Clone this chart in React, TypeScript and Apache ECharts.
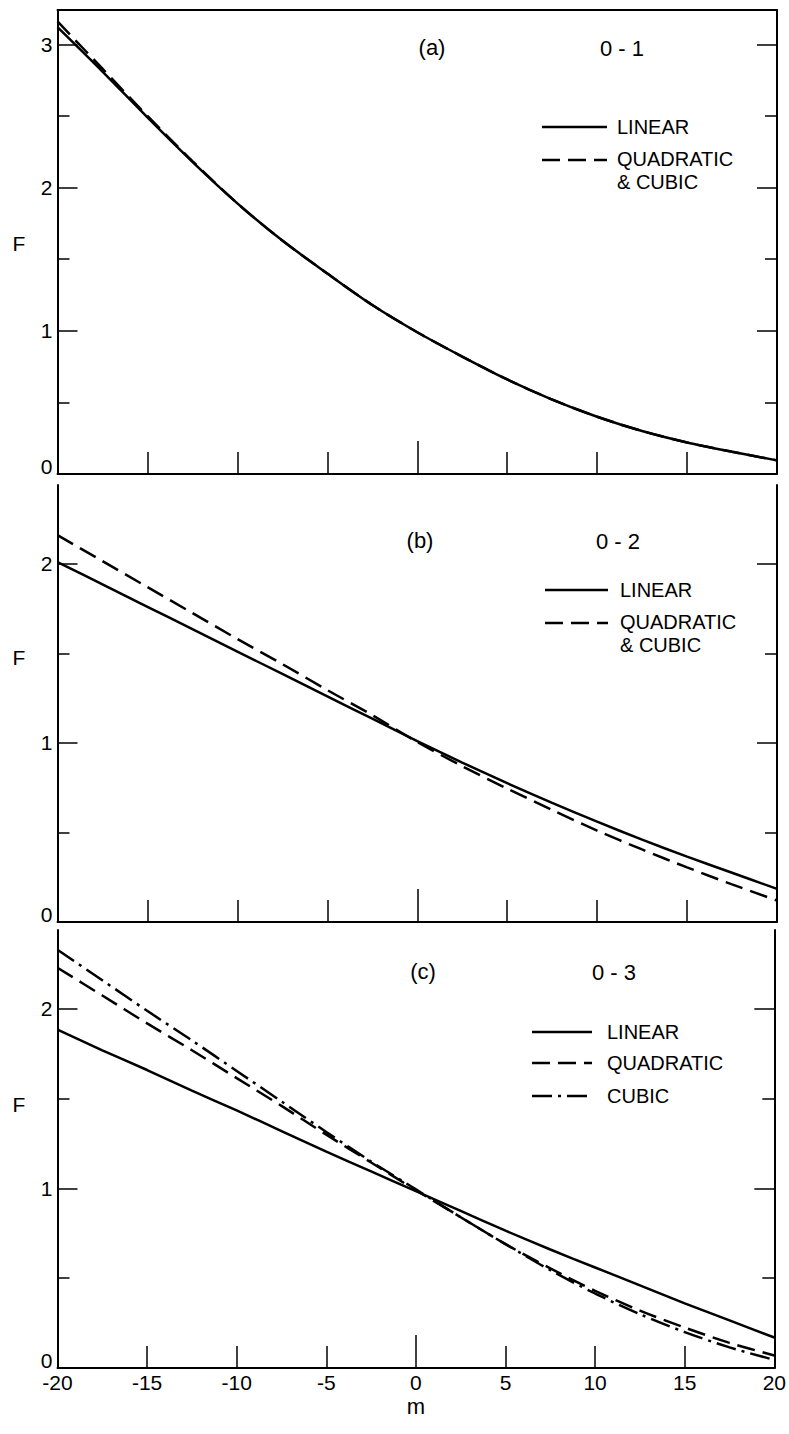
import React, { useEffect, useRef } from "react";
import * as echarts from "echarts";

// m values (x axis)
const M = [-20, -17.5, -15, -12.5, -10, -7.5, -5, -2.5, 0, 2.5, 5, 7.5, 10, 12.5, 15, 17.5, 20];

// Panel (a) 0-1
const A_LINEAR = [3.12, 2.81, 2.49, 2.18, 1.89, 1.63, 1.4, 1.18, 0.99, 0.82, 0.66, 0.52, 0.4, 0.3, 0.22, 0.155, 0.095];
const A_QUADCUBIC = [3.16, 2.83, 2.5, 2.185, 1.89, 1.63, 1.4, 1.18, 0.99, 0.82, 0.66, 0.52, 0.4, 0.3, 0.22, 0.155, 0.095];

// Panel (b) 0-2
const B_LINEAR = [2.01, 1.885, 1.76, 1.635, 1.51, 1.385, 1.26, 1.135, 1.01, 0.89, 0.775, 0.665, 0.56, 0.46, 0.365, 0.275, 0.185];
const B_QUADCUBIC = [2.16, 2.015, 1.87, 1.725, 1.58, 1.44, 1.295, 1.155, 1.005, 0.87, 0.745, 0.625, 0.51, 0.405, 0.305, 0.21, 0.12];

// Panel (c) 0-3
const C_LINEAR = [1.885, 1.77, 1.66, 1.545, 1.435, 1.32, 1.205, 1.095, 0.985, 0.875, 0.765, 0.66, 0.56, 0.46, 0.36, 0.265, 0.17];
const C_QUADRATIC = [2.23, 2.075, 1.92, 1.77, 1.615, 1.46, 1.3, 1.145, 0.99, 0.84, 0.69, 0.555, 0.43, 0.32, 0.225, 0.14, 0.07];
const C_CUBIC = [2.33, 2.16, 1.99, 1.825, 1.655, 1.485, 1.315, 1.15, 0.995, 0.84, 0.69, 0.545, 0.415, 0.3, 0.2, 0.115, 0.045];

// Axis ticks
const X_LABELS = [-20, -15, -10, -5, 0, 5, 10, 15, 20];
const X_INNER_TICKS = [-15, -10, -5, 5, 10, 15];
const Y_MAX = [3.24, 2.44, 2.44];
const Y_MAJOR = [[0, 1, 2, 3], [0, 1, 2], [0, 1, 2]];
const Y_MINOR = [[0.5, 1.5, 2.5], [0.5, 1.5], [0.5, 1.5]];

const PANEL_TAGS = ["(a)", "(b)", "(c)"];
const PANEL_TITLES = ["0 - 1", "0 - 2", "0 - 3"];

const FONT = "'Liberation Sans', Arial, sans-serif";
const DASH = [18, 8];
const DASHDOT = [20, 6, 3, 6];

const GRIDS = [
  { left: 57.5, top: 10, width: 719.5, height: 464 },
  { left: 57.5, top: 485, width: 719.5, height: 437 },
  { left: 57.5, top: 930, width: 719.5, height: 438 },
];

function pairs(ys: number[]) {
  return M.map((m, i) => [m, ys[i]]);
}

export default function App() {
  const ref = useRef<HTMLDivElement>(null);
  useEffect(() => {
    if (!ref.current) return;
    document.body.style.margin = "0";
    const chart = echarts.init(ref.current, undefined, { renderer: "svg" });

    const xAxis: any[] = [];
    const yAxis: any[] = [];
    const series: any[] = [];
    const axisLine = { show: true, onZero: false, lineStyle: { color: "#000", width: 2 } };
    const noLine = { show: false, onZero: false };

    GRIDS.forEach((_, p) => {
      const xMain = xAxis.length;
      xAxis.push({
        gridIndex: p,
        type: "value",
        min: -20,
        max: 20,
        interval: 5,
        position: "bottom",
        axisLine,
        axisTick: { show: true, inside: true, length: 22, lineStyle: { color: "#000", width: 1.5 }, customValues: X_INNER_TICKS },
        axisLabel: {
          show: p === 2,
          customValues: X_LABELS,
          color: "#000",
          fontSize: 21,
          fontFamily: FONT,
          margin: 4,
        },
        splitLine: { show: false },
        name: p === 2 ? "m" : "",
        nameLocation: "middle",
        nameGap: 27,
        nameTextStyle: { color: "#000", fontSize: 22, fontFamily: FONT },
      });
      xAxis.push({
        gridIndex: p,
        type: "value",
        min: -20,
        max: 20,
        interval: 20,
        position: "bottom",
        axisLine: noLine,
        axisTick: { show: true, inside: true, length: 33, lineStyle: { color: "#000", width: 1.5 }, customValues: [0] },
        axisLabel: { show: false },
        splitLine: { show: false },
      });
      if (p === 0) {
        xAxis.push({
          gridIndex: p,
          type: "value",
          min: -20,
          max: 20,
          position: "top",
          axisLine,
          axisTick: { show: false },
          axisLabel: { show: false },
          splitLine: { show: false },
        });
      }
      const yLeft = yAxis.length;
      yAxis.push({
        gridIndex: p,
        type: "value",
        min: 0,
        max: Y_MAX[p],
        position: "left",
        axisLine,
        axisTick: { show: true, inside: true, length: 20, lineStyle: { color: "#000", width: 1.5 }, customValues: Y_MAJOR[p] },
        axisLabel: {
          show: true,
          customValues: Y_MAJOR[p],
          color: "#000",
          fontSize: 21,
          fontFamily: FONT,
          margin: 5,
          formatter: (v: number) => (v === 0 ? "{z|0}" : String(v)),
          rich: { z: { fontSize: 21, fontFamily: FONT, color: "#000", padding: [0, 0, 15, 0] } },
        },
        splitLine: { show: false },
      });
      yAxis.push({
        gridIndex: p,
        type: "value",
        min: 0,
        max: Y_MAX[p],
        position: "left",
        axisLine: noLine,
        axisTick: { show: true, inside: true, length: 12, lineStyle: { color: "#000", width: 1.5 }, customValues: Y_MINOR[p] },
        axisLabel: { show: false },
        splitLine: { show: false },
      });
      yAxis.push({
        gridIndex: p,
        type: "value",
        min: 0,
        max: Y_MAX[p],
        position: "right",
        axisLine,
        axisTick: { show: true, inside: true, length: 20, lineStyle: { color: "#000", width: 1.5 }, customValues: Y_MAJOR[p] },
        axisLabel: { show: false },
        splitLine: { show: false },
      });
      yAxis.push({
        gridIndex: p,
        type: "value",
        min: 0,
        max: Y_MAX[p],
        position: "right",
        axisLine: noLine,
        axisTick: { show: true, inside: true, length: 12, lineStyle: { color: "#000", width: 1.5 }, customValues: Y_MINOR[p] },
        axisLabel: { show: false },
        splitLine: { show: false },
      });

      const mk = (name: string, ys: number[], type: any) => ({
        name,
        type: "line",
        xAxisIndex: xMain,
        yAxisIndex: yLeft,
        data: pairs(ys),
        smooth: 0.3,
        showSymbol: false,
        symbol: "none",
        lineStyle: { color: "#000", width: 2.5, type },
        silent: true,
      });
      if (p === 0) {
        series.push(mk("LINEAR", A_LINEAR, "solid"));
        series.push(mk("QUADRATIC & CUBIC", A_QUADCUBIC, DASH));
      } else if (p === 1) {
        series.push(mk("LINEAR", B_LINEAR, "solid"));
        series.push(mk("QUADRATIC & CUBIC", B_QUADCUBIC, DASH));
      } else {
        series.push(mk("LINEAR", C_LINEAR, "solid"));
        series.push(mk("QUADRATIC", C_QUADRATIC, DASH));
        series.push(mk("CUBIC", C_CUBIC, DASHDOT));
      }
    });

    const txt = (x: number, y: number, text: string, size = 20, align = "left") => ({
      type: "text",
      x,
      y,
      style: {
        text,
        fill: "#000",
        fontSize: size,
        fontFamily: FONT,
        textAlign: align,
        textVerticalAlign: "middle",
      },
      silent: true,
    });
    const seg = (x1: number, x2: number, y: number, dash: any) => ({
      type: "line",
      shape: { x1, y1: y, x2, y2: y },
      style: { stroke: "#000", lineWidth: 2.5, lineDash: dash },
      silent: true,
    });

    const graphic: any[] = [
      txt(432, 47, PANEL_TAGS[0], 22, "center"),
      txt(622, 48, PANEL_TITLES[0], 22, "center"),
      txt(420, 540, PANEL_TAGS[1], 22, "center"),
      txt(618, 541, PANEL_TITLES[1], 22, "center"),
      txt(423, 971, PANEL_TAGS[2], 22, "center"),
      txt(614, 972, PANEL_TITLES[2], 22, "center"),
      txt(19, 243, "F", 21, "center"),
      txt(19, 657, "F", 21, "center"),
      txt(19, 1104, "F", 21, "center"),
      // legend (a)
      seg(542, 607, 127, null),
      txt(617, 127, "LINEAR"),
      seg(542, 607, 160, DASH),
      txt(617, 159, "QUADRATIC"),
      txt(617, 182, "& CUBIC"),
      // legend (b)
      seg(545, 608, 590, null),
      txt(620, 590, "LINEAR"),
      seg(545, 608, 623, DASH),
      txt(620, 622, "QUADRATIC"),
      txt(620, 645, "& CUBIC"),
      // legend (c)
      seg(532, 592, 1032, null),
      txt(607, 1032, "LINEAR"),
      seg(532, 592, 1063, DASH),
      txt(607, 1063, "QUADRATIC"),
      seg(532, 592, 1096, DASHDOT),
      txt(607, 1096, "CUBIC"),
    ];

    chart.setOption({
      animation: false,
      backgroundColor: "#fff",
      grid: GRIDS,
      xAxis,
      yAxis,
      series,
      graphic,
    });
    return () => chart.dispose();
  }, []);
  return (
    <div
      ref={ref}
      style={{ position: "absolute", left: 0, top: 0, width: 789, height: 1434, background: "#fff" }}
    />
  );
}
